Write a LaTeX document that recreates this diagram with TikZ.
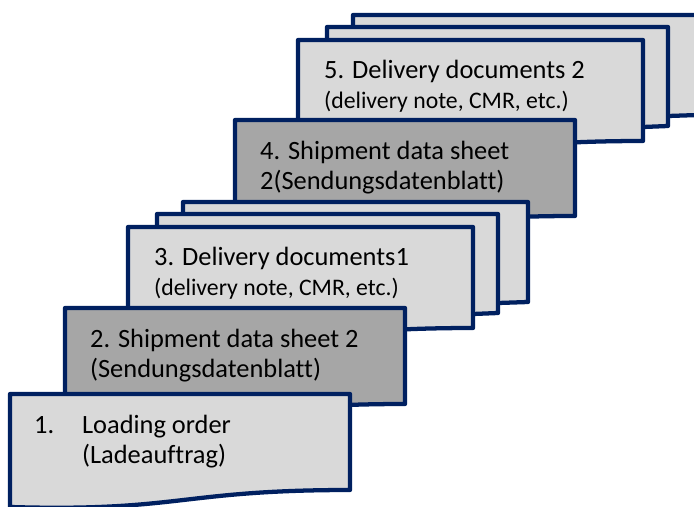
\documentclass[tikz,border=0pt]{standalone}
\usepackage{fontspec}
\setmainfont{Carlito}[Ligatures=NoCommon]
\definecolor{cnavy}{HTML}{002060}
\definecolor{clight}{HTML}{D9D9D9}
\definecolor{cdark}{HTML}{A6A6A6}
\tikzset{
  every picture/.style={line width=3.2pt, line join=round},
  sheet/.style={draw=cnavy, fill=#1},
  sheet/.default=clight,
  doctext/.style={anchor=base west, inner sep=0pt, font=\fontsize{19.8}{24}\selectfont},
  docnote/.style={anchor=base west, inner sep=0pt, font=\fontsize{17.8}{22}\selectfont},
}
% single document, wavy bottom: left, top, fill
\newcommand{\docsheet}[3]{
  \filldraw[sheet=#3] (#1,#2) -- (#1+340,#2) -- (#1+340,#2+96)
    .. controls (#1+170,#2+96) and (#1+170,#2+118) .. (#1,#2+113) -- cycle;
}
% stack of three documents: left, top of the front page
\newcommand{\docstack}[2]{
  \filldraw[sheet] (#1+55,#2-25) -- (#1+400,#2-25) -- (#1+400,#2+75)
    -- (#1+370,#2+76) -- (#1+55,#2+76) -- cycle;
  \filldraw[sheet] (#1+29,#2-13) -- (#1+370,#2-13) -- (#1+370,#2+86)
    -- (#1+345,#2+87) -- (#1+29,#2+87) -- cycle;
  \filldraw[sheet] (#1,#2) -- (#1+345,#2) -- (#1+345,#2+101)
    .. controls (#1+172,#2+101) and (#1+172,#2+123) .. (#1,#2+118) -- cycle;
}

\begin{document}
\begin{tikzpicture}[x=0.75pt, y=-0.75pt]
  \useasboundingbox (0,0) rectangle (694,507);
  \clip (0,0) rectangle (694,507);
  % back to front
  \docstack{298}{40}
  \node[docnote] (d5b) at (322,108) {(delivery note, CMR, etc.)};
  \node[doctext] (d5a) at (322,78) {5. Delivery documents 2};
  \docsheet{235}{120}{cdark}
  \node[doctext] (s4a) at (258,159) {4. Shipment data sheet};
  \node[doctext] (s4b) at (258,189) {2(Sendungsdatenblatt)};
  \docstack{128}{227}
  \node[doctext] (d3a) at (152,265) {3. Delivery documents1};
  \node[docnote] (d3b) at (152,295) {(delivery note, CMR, etc.)};
  \docsheet{65}{308}{cdark}
  \node[doctext] (s2a) at (88,347) {2. Shipment data sheet 2};
  \node[doctext] (s2b) at (88,377) {(Sendungsdatenblatt)};
  \docsheet{10}{394}{clight}
  \node[doctext] (l1n) at (32,433) {1.};
  \node[doctext] (l1a) at (80,433) {Loading order};
  \node[doctext] (l1b) at (80,463) {(Ladeauftrag)};
\end{tikzpicture}
\end{document}
